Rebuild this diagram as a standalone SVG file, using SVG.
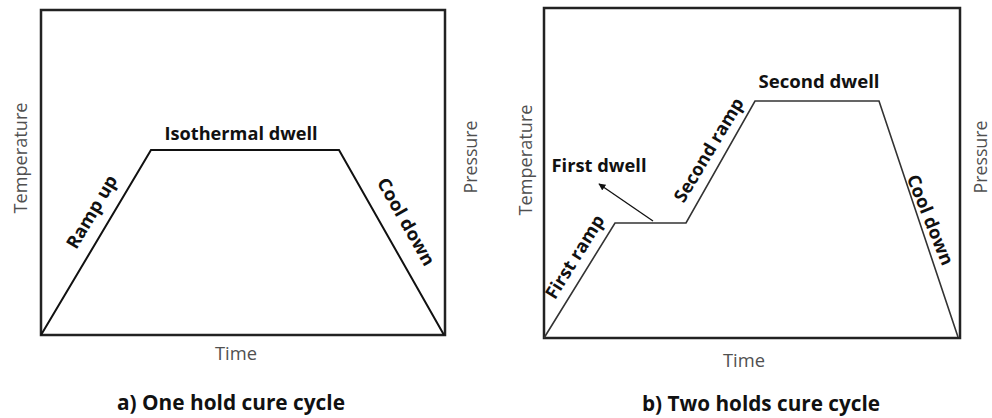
<svg xmlns="http://www.w3.org/2000/svg" width="992" height="418" viewBox="0 0 992 418">
<defs>
<style>
.box{fill:none;stroke:#222;stroke-width:2.5}
.curve{fill:none;stroke:#111;stroke-width:2;stroke-linejoin:miter}
.curve2{fill:none;stroke:#333;stroke-width:1.6}
.axis{font-family:"Open Sans","Liberation Sans",sans-serif;font-size:17.5px;fill:#505050}
.lbl{font-family:"Open Sans","Liberation Sans",sans-serif;font-size:18px;font-weight:bold;fill:#111}
.title{font-family:"Open Sans","Liberation Sans",sans-serif;font-size:20.5px;font-weight:bold;fill:#111}
</style>
<marker id="ah" viewBox="0 0 10 10" refX="9" refY="5" markerWidth="7" markerHeight="7" orient="auto" markerUnits="userSpaceOnUse">
<path d="M0,0 L10,5 L0,10 z" fill="#111"/>
</marker>
</defs>
<rect width="992" height="418" fill="#fff"/>
<g id="panel-a">
<rect class="box" x="41" y="10" width="404" height="325"/>
<path class="curve" d="M41,335 L151,150 L339,150 L444,335"/>
<text class="axis" transform="translate(27,158) rotate(-90)" text-anchor="middle" textLength="111" lengthAdjust="spacingAndGlyphs">Temperature</text>
<text class="axis" transform="translate(477,157) rotate(-90)" text-anchor="middle" textLength="73" lengthAdjust="spacingAndGlyphs">Pressure</text>
<text class="axis" x="236" y="360" text-anchor="middle" textLength="42" lengthAdjust="spacingAndGlyphs">Time</text>
<text class="lbl" x="241" y="140" text-anchor="middle" textLength="153" lengthAdjust="spacingAndGlyphs">Isothermal dwell</text>
<text class="lbl" transform="translate(92,212) rotate(-59.3)" text-anchor="middle" dy="6" textLength="82" lengthAdjust="spacingAndGlyphs">Ramp up</text>
<text class="lbl" transform="translate(406,222) rotate(60.4)" text-anchor="middle" dy="6" textLength="98" lengthAdjust="spacingAndGlyphs">Cool down</text>
<text class="title" x="231" y="410" text-anchor="middle" textLength="228" lengthAdjust="spacingAndGlyphs">a) One hold cure cycle</text>
</g>
<g id="panel-b">
<rect class="box" x="544" y="8" width="416" height="330"/>
<path class="curve2" d="M544,338 L615,223 L686,223 L755,101 L879,101 L958,337"/>
<text class="axis" transform="translate(532,160) rotate(-90)" text-anchor="middle" textLength="111" lengthAdjust="spacingAndGlyphs">Temperature</text>
<text class="axis" transform="translate(987,157) rotate(-90)" text-anchor="middle" textLength="73" lengthAdjust="spacingAndGlyphs">Pressure</text>
<text class="axis" x="744" y="367" text-anchor="middle" textLength="42" lengthAdjust="spacingAndGlyphs">Time</text>
<text class="lbl" x="599" y="172" text-anchor="middle" textLength="95" lengthAdjust="spacingAndGlyphs">First dwell</text>
<text class="lbl" x="819" y="88" text-anchor="middle" textLength="121" lengthAdjust="spacingAndGlyphs">Second dwell</text>
<text class="lbl" transform="translate(575,257) rotate(-58)" text-anchor="middle" dy="6" textLength="95" lengthAdjust="spacingAndGlyphs">First ramp</text>
<text class="lbl" transform="translate(709,150) rotate(-59)" text-anchor="middle" dy="6" textLength="118" lengthAdjust="spacingAndGlyphs">Second ramp</text>
<text class="lbl" transform="translate(930,220) rotate(68)" text-anchor="middle" dy="6" textLength="96" lengthAdjust="spacingAndGlyphs">Cool down</text>
<text class="title" x="761" y="411" text-anchor="middle" textLength="238" lengthAdjust="spacingAndGlyphs">b) Two holds cure cycle</text>
</g>
<g id="connectors">
<line x1="653" y1="221" x2="599" y2="184" stroke="#111" stroke-width="1.3" marker-end="url(#ah)"/>
</g>
</svg>
